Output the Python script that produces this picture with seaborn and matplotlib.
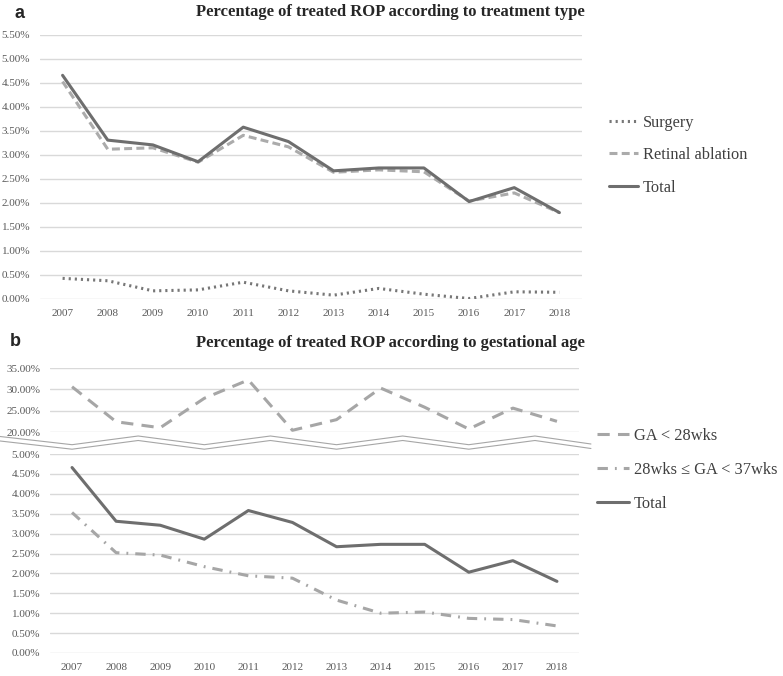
import numpy as np
import pandas as pd
import seaborn as sns
from matplotlib import pyplot as plt
from matplotlib.ticker import PercentFormatter, MultipleLocator
from matplotlib.transforms import blended_transform_factory

years = list(range(2007, 2019))

# panel a: treatment type (%)
surgery = [0.43, 0.38, 0.17, 0.19, 0.35, 0.17, 0.08, 0.22, 0.10, 0.01, 0.15, 0.14]
retinal_ablation = [4.53, 3.12, 3.15, 2.85, 3.41, 3.17, 2.64, 2.69, 2.65, 2.04, 2.21, 1.80]
total = [4.66, 3.31, 3.21, 2.86, 3.58, 3.28, 2.67, 2.73, 2.73, 2.03, 2.32, 1.80]

# panel b: gestational age (%)
ga_under_28 = [30.6, 22.4, 21.0, 27.9, 32.2, 20.4, 22.9, 30.3, 25.8, 20.7, 25.6, 22.5]
ga_28_to_37 = [3.53, 2.52, 2.46, 2.17, 1.94, 1.88, 1.33, 1.00, 1.03, 0.87, 0.84, 0.68]

title_a = 'Percentage of treated ROP according to treatment type'
title_b = 'Percentage of treated ROP according to gestational age'
labels_a = ['Surgery', 'Retinal ablation', 'Total']
labels_b = ['GA < 28wks', '28wks \u2264 GA < 37wks', 'Total']

W, H = 783, 676
sns.set_theme(style='white')
plt.rcParams['font.family'] = ['Liberation Serif', 'DejaVu Serif']

TICK_COLOR = '#595959'
GRID_COLOR = '#d9d9d9'
palette = {'Surgery': '#777777', 'Retinal ablation': '#ababab', 'Total': '#6e6e6e',
           'GA < 28wks': '#a6a6a6', '28wks \u2264 GA < 37wks': '#a6a6a6'}
dashes = {'Surgery': (0.7, 1.3), 'Retinal ablation': (2.6, 1.4), 'Total': '',
          'GA < 28wks': (4.0, 2.7), '28wks \u2264 GA < 37wks': (3.4, 2.3, 0.6, 2.3)}


def px_axes(fig, x0, y0, x1, y1):
    # pixel box (top-left origin) -> axes
    return fig.add_axes([x0 / W, 1 - y1 / H, (x1 - x0) / W, (y1 - y0) / H])


def long_frame(series):
    rows = []
    for name, vals in series.items():
        for yr, v in zip(years, vals):
            rows.append({'year': yr, 'pct': v, 'series': name})
    return pd.DataFrame(rows)


def style_axis(ax, lo, hi, step, xticks=True, pad=6):
    ax.set_xlim(years[0] - 0.5, years[-1] + 0.5)
    ax.set_ylim(lo, hi)
    ax.yaxis.set_major_locator(MultipleLocator(step))
    ax.yaxis.set_major_formatter(PercentFormatter(xmax=100, decimals=2))
    ax.set_xticks(years)
    if not xticks:
        ax.set_xticklabels([])
    ax.grid(axis='y', color=GRID_COLOR, linewidth=1.0)
    ax.grid(axis='x', visible=False)
    ax.tick_params(length=0, labelsize=8, colors=TICK_COLOR, pad=pad)
    ax.set_xlabel('')
    ax.set_ylabel('')
    sns.despine(ax=ax, left=True, bottom=True)
    ax.set_facecolor('none')


def draw(ax, series, order):
    df = long_frame(series)
    sns.lineplot(data=df, x='year', y='pct', hue='series', style='series',
                 hue_order=order, style_order=order, palette=palette, dashes=dashes,
                 linewidth=2.2, ax=ax, legend=True)
    h, l = ax.get_legend_handles_labels()
    ax.get_legend().remove()
    return h, l


fig = plt.figure(figsize=(W / 100, H / 100), dpi=100)

# ---- panel a
ax_a = px_axes(fig, 40, 35, 582, 299)
h_a, l_a = draw(ax_a, {'Surgery': surgery, 'Retinal ablation': retinal_ablation, 'Total': total}, labels_a)
style_axis(ax_a, 0, 5.5, 0.5, pad=7)
fig.text(15 / W, 1 - 13 / H, 'a', family='Liberation Sans', weight='bold', fontsize=13, va='center')
fig.text(390 / W, 1 - 12 / H, title_a, weight='bold', fontsize=12, ha='center', va='center', color='#262626')
fig.legend(h_a, l_a, loc='upper left', bbox_to_anchor=(594 / W, 1 - 100 / H), frameon=False,
           fontsize=11.8, handlelength=1.8, handletextpad=0.3, labelspacing=1.0, labelcolor='#404040')

# ---- panel b (broken axis)
ax_top = px_axes(fig, 50, 368, 579, 432)
ax_bot = px_axes(fig, 50, 454, 579, 653)
h1, l1 = draw(ax_top, {'GA < 28wks': ga_under_28}, [labels_b[0]])
h2, l2 = draw(ax_bot, {'28wks \u2264 GA < 37wks': ga_28_to_37, 'Total': total}, labels_b[1:])
style_axis(ax_top, 20, 35, 5, xticks=False, pad=7)
style_axis(ax_bot, 0, 5, 0.5, pad=7)
for lab in ax_top.get_yticklabels():
    lab.set_clip_on(False)

# zigzag break marker below the 20% line
trans = blended_transform_factory(ax_top.transData, ax_top.transAxes)
h_top = 432 - 368
valleys = np.array(years[::3], dtype=float)
peaks = valleys + 1.5
x_left = years[0] - 72 / 44.1
x_right = years[-1] + 34 / 44.1
zx = np.concatenate([[x_left], np.sort(np.concatenate([valleys, peaks])), [x_right]])
is_peak = np.isin(zx, peaks)
for off in (0, 4.5):
    zy = np.where(is_peak, -(4 + off) / h_top, -(12.7 + off) / h_top)
    zy[0] = -(4.5 + off) / h_top
    zy[-1] = -(12 + off) / h_top
    ax_top.plot(zx, zy, color='#a6a6a6', lw=0.8, transform=trans, clip_on=False)

fig.text(10 / W, 1 - 341 / H, 'b', family='Liberation Sans', weight='bold', fontsize=13, va='center')
fig.text(390 / W, 1 - 343 / H, title_b, weight='bold', fontsize=12, ha='center', va='center', color='#262626')
fig.legend(h1 + h2, l1 + l2, loc='upper left', bbox_to_anchor=(582 / W, 1 - 413 / H), frameon=False,
           fontsize=11.8, handlelength=1.95, handletextpad=0.3, labelspacing=1.1, labelcolor='#404040')

fig.savefig('out.png', dpi=100)
plt.close(fig)
